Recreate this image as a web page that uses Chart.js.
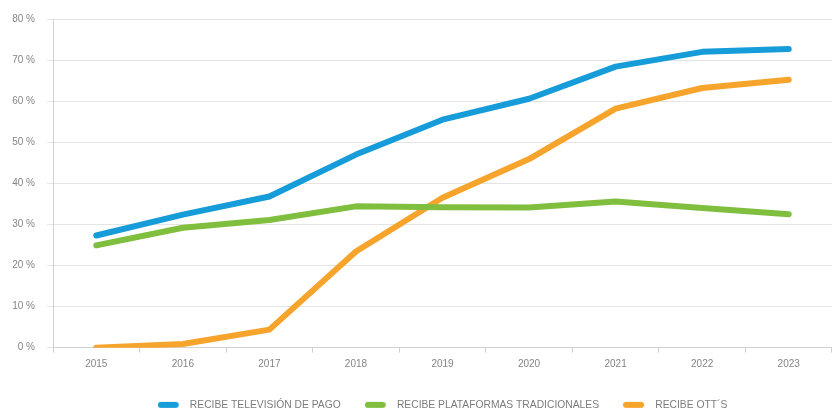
<!DOCTYPE html>
<html>
<head>
<meta charset="utf-8">
<script src="https://cdn.jsdelivr.net/npm/chart.js@4/dist/chart.umd.min.js"></script>
<style>
    body { margin: 0; background: #fff; }
</style>
</head>
<body>
<canvas id="penetrationChart" width="832" height="410"></canvas>
<script>

const years = ['2015', '2016', '2017', '2018', '2019', '2020', '2021', '2022', '2023'];

// % de hogares
const pagoTv = [27.3, 32.4, 36.8, 47.0, 55.5, 60.6, 68.4, 72.0, 72.7];
const tradicionales = [24.9, 29.2, 31.1, 34.4, 34.2, 34.1, 35.6, 34.0, 32.5];
const otts = [0, 0.9, 4.4, 23.4, 36.5, 45.9, 58.2, 63.2, 65.2];

const seriesNames = ['RECIBE TELEVISIÓN DE PAGO', 'RECIBE PLATAFORMAS TRADICIONALES', 'RECIBE OTT´S'];
const seriesColors = ['rgb(22, 156, 216)', 'rgb(128, 190, 62)', 'rgb(246, 164, 44)'];

// little rounded stroke for the legend, with some empty room on the right before the text
const legendMarker = (color) => {
    const c = document.createElement('canvas');
    c.width = 27;
    c.height = 8;
    const g = c.getContext('2d');
    g.strokeStyle = color;
    g.lineWidth = 6;
    g.lineCap = 'round';
    g.beginPath();
    g.moveTo(3, 4);
    g.lineTo(18, 4);
    g.stroke();
    return c;
}

const makeDataset = (i, values) => {
    return {
        label: seriesNames[i],
        data: values,
        borderColor: seriesColors[i],
        backgroundColor: seriesColors[i],
        borderWidth: 6,
        borderCapStyle: 'round',
        borderJoinStyle: 'round',
        pointRadius: 0,
        pointHoverRadius: 0,
        pointStyle: legendMarker(seriesColors[i]),
        tension: 0
    }
}

const tickFont = { family: "'Liberation Sans', Arial, sans-serif", size: 10 };
const legendFont = { family: "'Liberation Sans', Arial, sans-serif", size: 10.3 };

const plotData = () => {
    const ctx = document.getElementById('penetrationChart');

    new Chart(ctx, {
        type: 'line',
        data: {
            labels: years,
            datasets: [
                makeDataset(0, pagoTv),
                makeDataset(1, tradicionales),
                makeDataset(2, otts)
            ]
        },
        options: {
            responsive: false,
            animation: false,
            layout: {
                // legend box keeps 10px of air under itself, let it hang below the canvas
                padding: { top: 19, right: 0, bottom: -10, left: 0 }
            },
            plugins: {
                tooltip: { enabled: false },
                legend: {
                    position: 'bottom',
                    fullSize: false,
                    labels: {
                        usePointStyle: true,
                        pointStyleWidth: 27,
                        padding: 24,
                        color: '#7c7c7c',
                        font: legendFont
                    }
                }
            },
            scales: {
                x: {
                    offset: true,
                    grid: {
                        offset: true,
                        drawOnChartArea: false,
                        tickLength: 5,
                        color: '#cfcfcf'
                    },
                    border: { display: true, color: '#d2d2d2' },
                    ticks: {
                        color: '#858585',
                        font: tickFont,
                        padding: 6,
                        maxRotation: 0
                    },
                    afterFit: (scale) => { scale.height = 28; }
                },
                y: {
                    min: 0,
                    max: 80,
                    grid: {
                        color: '#e4e4e4',
                        tickLength: 6
                    },
                    border: { display: true, color: '#d0d0d0' },
                    ticks: {
                        stepSize: 10,
                        color: '#858585',
                        font: tickFont,
                        padding: 12,
                        callback: (v) => v + ' %'
                    },
                    afterFit: (scale) => { scale.width = 53; }
                }
            }
        }
    });
};

plotData();

</script>
</body>
</html>
